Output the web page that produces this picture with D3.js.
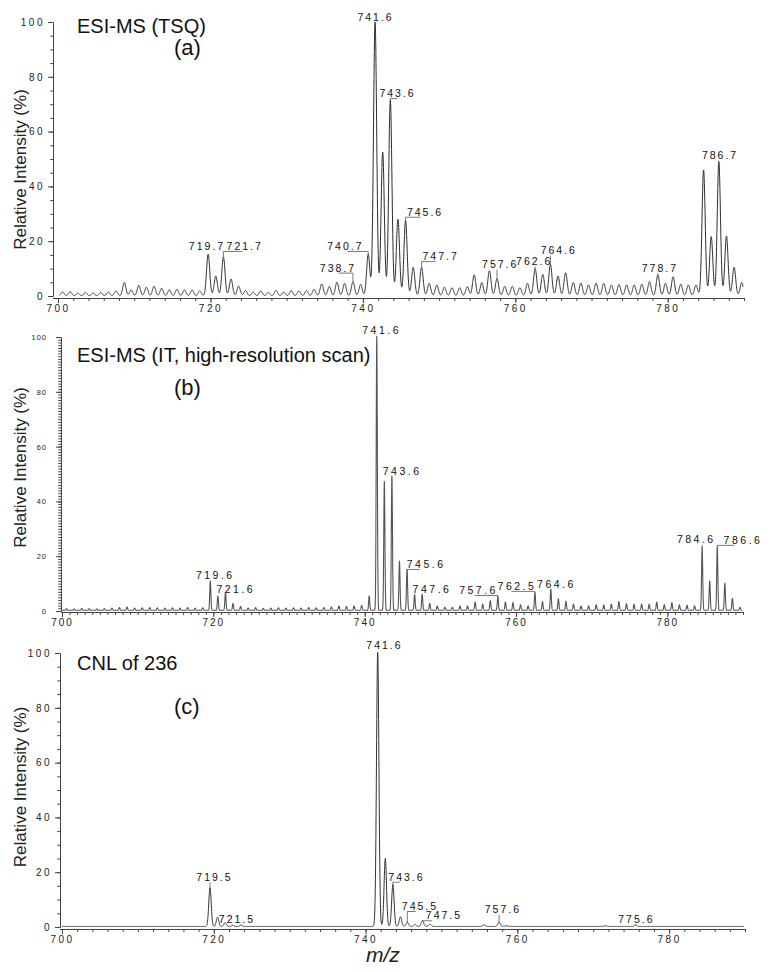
<!DOCTYPE html>
<html>
<head>
<meta charset="utf-8">
<script src="https://cdn.jsdelivr.net/npm/d3@7"></script>
<style>
body { margin: 0; background: #fff; }
svg { display: block; font-family: "Liberation Sans", Arial, sans-serif; }
</style>
</head>
<body>
<script>
// ---- data (peak m/z, relative intensity %) ----
const mzA = [700.6,701.6,702.6,703.6,704.6,705.6,706.6,707.6,708.7,709.6,710.6,711.6,712.6,713.6,714.6,715.6,716.6,717.6,718.6,
	719.7,720.7,721.7,722.7,723.7,724.6,725.6,726.6,727.6,728.6,729.6,730.6,731.6,732.6,733.6,734.6,735.6,736.6,737.6,738.7,739.7,
	740.7,741.6,742.6,743.6,744.6,745.6,746.6,747.7,748.7,749.7,750.7,751.7,752.7,753.7,754.6,755.6,756.6,757.6,758.6,759.6,
	760.6,761.6,762.6,763.6,764.6,765.6,766.6,767.6,768.6,769.6,770.6,771.6,772.6,773.6,774.6,775.6,776.6,777.6,778.7,779.7,
	780.7,781.7,782.7,783.7,784.7,785.7,786.7,787.7,788.7,789.7]
const intA = [1.5,1.6,1.0,1.3,1.1,1.3,1.5,1.8,4.9,2.2,3.9,3.2,3.6,2.8,2.2,2.4,2.2,2.2,1.8,
	15.3,7.3,14.3,6.2,3.6,2.0,1.4,1.8,1.3,2.0,1.4,2.0,1.8,2.0,2.4,4.4,3.5,5.0,4.6,5.2,4.2,
	15.3,100,52.5,71.5,28,27.5,10.5,10.5,4.6,4.0,3.2,3.0,3.0,3.4,7.7,4.9,9.2,6.4,3.5,3.5,
	3.0,4.6,10,7.9,11.6,7.3,8.5,4.9,4.7,4.0,4.7,4.6,4.0,4.2,4.0,4.0,4.3,5.2,7.7,4.6,
	7.0,4.3,4.0,4.0,46,21.7,49,21.9,10.5,4.9]

const mzB = [700.6,701.6,702.6,703.6,704.6,705.6,706.6,707.6,708.6,709.6,710.6,711.6,712.6,713.6,714.6,715.6,716.6,717.6,718.6,
	719.6,720.6,721.6,722.6,723.6,724.6,725.6,726.6,727.6,728.6,729.6,730.6,731.6,732.6,733.6,734.6,735.6,736.6,737.6,738.6,739.6,
	740.6,741.6,742.6,743.6,744.6,745.6,746.6,747.6,748.6,749.6,750.6,751.6,752.6,753.6,754.6,755.6,756.6,757.6,758.6,759.6,
	760.6,761.6,762.5,763.5,764.6,765.6,766.6,767.6,768.6,769.6,770.6,771.6,772.6,773.6,774.6,775.6,776.6,777.6,778.6,779.6,
	780.6,781.6,782.6,783.6,784.6,785.6,786.6,787.6,788.6,789.6]
const intB = [0.6,0.5,0.7,0.6,0.5,0.6,0.8,1.0,1.2,0.8,0.9,1.0,0.9,0.8,0.9,0.8,1.0,0.8,0.9,
	10.7,5.2,6.5,2.5,1.4,0.8,1.0,0.7,0.8,0.9,0.8,0.9,0.8,1.0,0.9,1.0,1.2,1.6,1.4,1.6,1.8,
	5.2,100,47,49,18,15,5.8,5.8,2.5,1.6,1.1,1.1,1.6,1.6,3.0,2.2,3.5,5.0,3.0,2.8,
	2.0,1.6,6.5,3.2,7.7,4.2,3.3,2.2,1.6,1.6,2.0,1.9,2.2,3.2,2.4,2.2,2.2,2.2,3.0,2.0,
	2.8,2.0,1.9,1.6,22.9,10.7,23.2,9.9,4.3,1.1]

const mzC = [719.5,720.5,721.5,722.5,723.6,741.6,742.6,743.6,744.6,745.5,746.5,747.5,748.5,755.6,757.6,758.6,771.6,775.6]
const intC = [14.1,3.4,1.4,0.4,0.5,100,24.8,15.3,3.5,1.6,0.7,2.2,0.8,0.6,1.5,0.3,0.3,0.6]

const xTicks = [700, 720, 740, 760, 780]
const yTicks = [0, 20, 40, 60, 80, 100]
const titles = ["ESI-MS (TSQ)", "ESI-MS (IT, high-resolution scan)", "CNL of 236"]
const tags = ["(a)", "(b)", "(c)"]

// peak labels: text, text m/z, text %, peak m/z, peak %, bracket end m/z (or null), draw leader
const labelsA = [
	["741.6", 741.66, 100.4, 741.6, 100, null, false],
	["743.6", 744.55, 72.6, 743.6, 71.5, 744.5, true],
	["719.7", 719.55, 16.8, 719.7, 15.3, null, false],
	["721.7", 724.5, 16.8, 721.7, 14.3, 724.2, true],
	["740.7", 737.71, 16.8, 740.7, 15.3, 737.98, true],
	["738.7", 736.73, 8.9, 738.7, 5.2, 736.8, true],
	["745.6", 748.16, 29.3, 745.6, 27.5, 747.57, true],
	["747.7", 750.2, 13.1, 747.7, 10.5, 749.54, true],
	["757.6", 758.02, 10.2, 757.6, 6.4, null, true],
	["762.6", 762.48, 11.3, 762.6, 10, null, true],
	["764.6", 765.7, 15.3, 764.6, 11.6, null, true],
	["778.7", 778.97, 8.9, 778.7, 7.7, null, true],
	["786.7", 786.86, 50, 786.7, 49, null, true]
]
const labelsB = [
	["741.6", 742.24, 101.1, 741.6, 100, null, false],
	["743.6", 744.95, 49.6, 743.6, 49, null, false],
	["719.6", 720.26, 11.6, 719.6, 10.7, null, false],
	["721.6", 722.97, 6.7, 721.6, 6.5, null, true],
	["745.6", 748.12, 15.7, 745.6, 15, 747.26, true],
	["747.6", 748.9, 6.7, 747.6, 5.8, null, true],
	["757.6", 755.05, 6.2, 757.6, 5, 754.52, true],
	["762.5", 760.13, 7.7, 762.5, 6.5, 759.4, true],
	["764.6", 765.35, 8.3, 764.6, 7.7, null, true],
	["784.6", 783.83, 24.7, 784.6, 22.9, null, true],
	["786.6", 790.0, 24.5, 786.6, 23.2, 788.85, true]
]
const labelsC = [
	["741.6", 742.49, 101.5, 741.6, 100, null, false],
	["719.5", 720.09, 16.9, 719.5, 14.1, null, true],
	["721.5", 723.06, 1.6, 721.5, 1.4, null, false],
	["743.6", 745.39, 16.9, 743.6, 15.3, 744.5, true],
	["745.5", 747.17, 6.2, 745.5, 1.6, 746.6, true],
	["747.5", 750.33, 2.8, 747.5, 2.2, 748.75, true],
	["757.6", 758.1, 5.0, 757.6, 1.5, null, true],
	["775.6", 775.69, 1.35, 775.6, 0.6, null, true]
]

// ---- layout ----
var w = 776
var h = 972

var panels = [
	{mz: mzA, int: intA, labels: labelsA, title: titles[0], tag: tags[0],
		yAxisX: 53, left: 58, right: 744, base: 296, top: 22, axisY: 298,
		sigma: 0.21, step: 0.02, start: 700.2, floor: 0, stroke: "#2e2e2e", width: 1,
		xMinor: 2, yMinor: 5, yTick: 5, yPad: 3, yFont: 10, ySpace: 2.5, xFont: 10, xSpace: 2.5,
		labFont: 10.5, labSpace: 2, titleY: 32.7, tagY: 55.4, yLabelY: 169.5},
	{mz: mzB, int: intB, labels: labelsB, title: titles[1], tag: tags[1],
		yAxisX: 61, left: 62, right: 743, base: 611, top: 337, axisY: 612,
		sigma: 0.075, step: 0.01, start: 700, floor: 0.25, stroke: "#555", width: 1.1,
		xMinor: 1, yMinor: 1, yTick: 5, yPad: 9, yFont: 7.5, ySpace: 1, xFont: 10, xSpace: 2,
		labFont: 10.5, labSpace: 2.5, titleY: 361.5, tagY: 395, yLabelY: 467.5},
	{mz: mzC, int: intC, labels: labelsC, title: titles[2], tag: tags[2],
		yAxisX: 60, left: 62, right: 745, base: 927, top: 653, axisY: 929,
		sigma: 0.16, step: 0.02, start: 700, floor: 0.2, stroke: "#333", width: 1,
		xMinor: 2, yMinor: 5, yTick: 5, yPad: 3, yFont: 10, ySpace: 2.5, xFont: 10, xSpace: 2.5,
		labFont: 10.5, labSpace: 2, titleY: 670, tagY: 714, yLabelY: 787}
]

var svg = d3.select("body")
	.append("svg")
	.attr("width", w)
	.attr("height", h)

svg.append("rect").attr("width", w).attr("height", h).attr("fill", "#fff")

panels.forEach(drawPanel)

svg.append("text")
	.attr("x", 366)
	.attr("y", 962)
	.attr("font-size", 21)
	.attr("font-style", "italic")
	.attr("fill", "#222")
	.text("m/z")

// peak-shape rendering of the stick list
function profile(p){
	return d3.range(p.start, 789.9, p.step).map(function(m){
		var v = p.floor
		p.mz.forEach(function(c, i){
			var d = (m - c) / p.sigma
			if (Math.abs(d) < 6) v += p.int[i] * Math.exp(-0.5 * d * d)
		})
		return [m, v]
	})
}

function drawPanel(p){
	var xScale = d3.scaleLinear().domain([700, 790]).range([p.left, p.right])
	var yScale = d3.scaleLinear().domain([0, 100]).range([p.base, p.top])

	var g = svg.append("g")

	// minor + major y ticks
	var yMinorAxis = d3.axisLeft(yScale).tickValues(d3.range(0, 100.1, p.yMinor))
		.tickSize(p.yTick * 0.55).tickSizeOuter(0).tickFormat("")
	var yAxis = d3.axisLeft(yScale).tickValues(yTicks)
		.tickSize(p.yTick).tickSizeOuter(0).tickPadding(p.yPad)

	g.append("g").attr("transform", "translate(" + p.yAxisX + ",0)").call(yMinorAxis)
	var ya = g.append("g").attr("transform", "translate(" + p.yAxisX + ",0)").call(yAxis)
	ya.selectAll("text")
		.attr("font-size", p.yFont)
		.attr("letter-spacing", p.ySpace)
		.attr("font-family", "Liberation Sans, Arial, sans-serif")
		.attr("fill", "#222")

	// x axis
	var xMinorAxis = d3.axisBottom(xScale).tickValues(d3.range(700, 790.1, p.xMinor))
		.tickSize(3).tickSizeOuter(0).tickFormat("")
	var xAxis = d3.axisBottom(xScale).tickValues(xTicks).tickSize(5).tickSizeOuter(0).tickPadding(2)

	g.append("g").attr("transform", "translate(0," + p.axisY + ")").call(xMinorAxis)
	var xa = g.append("g").attr("transform", "translate(0," + p.axisY + ")").call(xAxis)
	xa.selectAll("text")
		.attr("font-size", p.xFont)
		.attr("letter-spacing", p.xSpace)
		.attr("font-family", "Liberation Sans, Arial, sans-serif")
		.attr("fill", "#222")

	g.append("line")
		.attr("x1", p.yAxisX).attr("x2", p.left)
		.attr("y1", p.axisY + 0.5).attr("y2", p.axisY + 0.5)
		.attr("stroke", "#333")

	g.selectAll(".domain, .tick line").attr("stroke", "#444")

	// trace
	var line = d3.line()
		.x((d) => xScale(d[0]))
		.y((d) => yScale(d[1]))

	g.append("path")
		.datum(profile(p))
		.attr("d", line)
		.attr("fill", "none")
		.attr("stroke", p.stroke)
		.attr("stroke-width", p.width)
		.attr("stroke-linejoin", "round")

	// leaders
	p.labels.forEach(function(l){
		if (!l[6]) return
		var px = xScale(l[3])
		var ly = yScale(l[2]) + 1.5
		g.append("line")
			.attr("x1", px).attr("x2", px)
			.attr("y1", ly).attr("y2", yScale(l[4]))
			.attr("stroke", "#555").attr("stroke-width", 0.8)
		if (l[5] != null){
			g.append("line")
				.attr("x1", px).attr("x2", xScale(l[5]))
				.attr("y1", ly).attr("y2", ly)
				.attr("stroke", "#555").attr("stroke-width", 0.8)
		}
	})

	// peak labels
	g.selectAll("text.peak")
		.data(p.labels)
		.enter()
		.append("text")
		.attr("class", "peak")
		.attr("x", (d) => xScale(d[1]))
		.attr("y", (d) => yScale(d[2]))
		.attr("text-anchor", "middle")
		.attr("font-size", p.labFont)
		.attr("letter-spacing", p.labSpace)
		.attr("fill", "#111")
		.text((d) => d[0])

	// titles
	g.append("text")
		.attr("x", 77).attr("y", p.titleY)
		.attr("font-size", 20)
		.attr("fill", "#111")
		.text(p.title)

	g.append("text")
		.attr("x", 174).attr("y", p.tagY)
		.attr("font-size", 22)
		.attr("fill", "#111")
		.text(p.tag)

	g.append("text")
		.attr("transform", "translate(25.5," + p.yLabelY + ") rotate(-90)")
		.attr("text-anchor", "middle")
		.attr("font-size", 17)
		.attr("fill", "#222")
		.text("Relative Intensity (%)")
}
</script>
</body>
</html>
